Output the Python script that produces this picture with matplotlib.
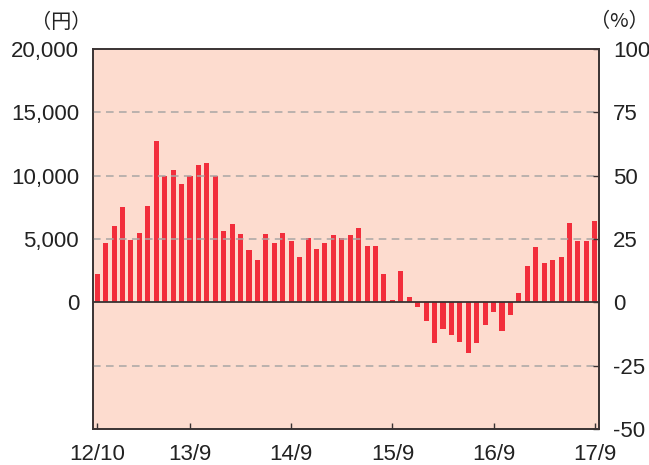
import matplotlib
matplotlib.use("Agg")
import matplotlib.pyplot as plt
from matplotlib.ticker import FuncFormatter

plt.rcParams['font.family'] = ['Liberation Sans', 'Noto Sans CJK JP', 'DejaVu Sans']

# Monthly categories 2012/10 .. 2017/9
months = []
y, m = 12, 10
for _ in range(60):
    months.append(f"{y}/{m}")
    m += 1
    if m > 12:
        m = 1
        y += 1

values_yen = [2200, 4650, 6000, 7560, 4960, 5510, 7640, 12760, 10000, 10470,
              9370, 10000, 10870, 11020, 10000, 5670, 6220, 5430, 4170, 3310,
              5400, 4680, 5480, 4840, 3570, 5080, 4200, 4680, 5320, 5080,
              5320, 5870, 4440, 4440, 2220, 170, 2460, 400, -400, -1500,
              -3230, -2130, -2600, -3150, -4020, -3230, -1810, -790, -2280, -1020,
              710, 2830, 4330, 3070, 3310, 3540, 6300, 4880, 4880, 6460]

tick_labels = ["12/10", "13/9", "14/9", "15/9", "16/9", "17/9"]
left_ticks = [0, 5000, 10000, 15000, 20000]
right_ticks = [-50, -25, 0, 25, 50, 75, 100]

bg = "#FDDCCF"
bar_color = "#F22E3C"
dark = "#3a3333"
txt = "#222222"
fs = 16

fig = plt.figure(figsize=(6.49, 4.65), dpi=100)
ax = fig.add_axes([93/649, 36/465, 506/649, 380/465])
ax.set_facecolor(bg)

x = list(range(len(values_yen)))
ax.bar(x, values_yen, width=0.6, color=bar_color, zorder=3)
ax.set_xlim(-0.5, len(values_yen) - 0.5)
ax.set_ylim(-10000, 20000)

ax.set_yticks(left_ticks)
ax.yaxis.set_major_formatter(FuncFormatter(lambda v, p: f"{int(v):,}"))
ax.tick_params(axis='y', length=0, pad=10, labelsize=fs, labelcolor=txt)

tick_pos = [months.index(t) for t in tick_labels]
ax.set_xticks(tick_pos)
ax.set_xticklabels(tick_labels)
ax.tick_params(axis='x', direction='in', length=4, width=1, color=dark,
               pad=11, labelsize=fs, labelcolor=txt)

ax2 = ax.twinx()
ax2.set_ylim(-50, 100)
ax2.set_yticks(right_ticks)
ax2.yaxis.set_major_formatter(FuncFormatter(lambda v, p: f"{int(v)}"))
ax2.tick_params(axis='y', direction='in', length=4, width=1, color=dark,
                pad=10, labelsize=fs, labelcolor=txt)

for t in [-25, 25, 50, 75]:
    ax2.axhline(t, color="#A9A6A4", lw=1.1, ls=(0, (5, 3.5)), zorder=1)
ax2.axhline(0, color=dark, lw=1.3, zorder=4)

for a in (ax, ax2):
    for s in a.spines.values():
        s.set_color(dark)
        s.set_linewidth(1.2)
ax.set_zorder(1)
ax2.set_zorder(2)
ax2.patch.set_visible(False)

fig.text(61/649, 1 - 22/465, "（円）", ha='center', va='center', fontsize=14.5,
         color=txt, family=['Noto Sans CJK JP', 'DejaVu Sans'])
fig.text(619/649, 1 - 22/465, "（%）", ha='center', va='center', fontsize=14.5,
         color=txt, family=['Noto Sans CJK JP', 'DejaVu Sans'])

fig.savefig("out.png", dpi=100)
